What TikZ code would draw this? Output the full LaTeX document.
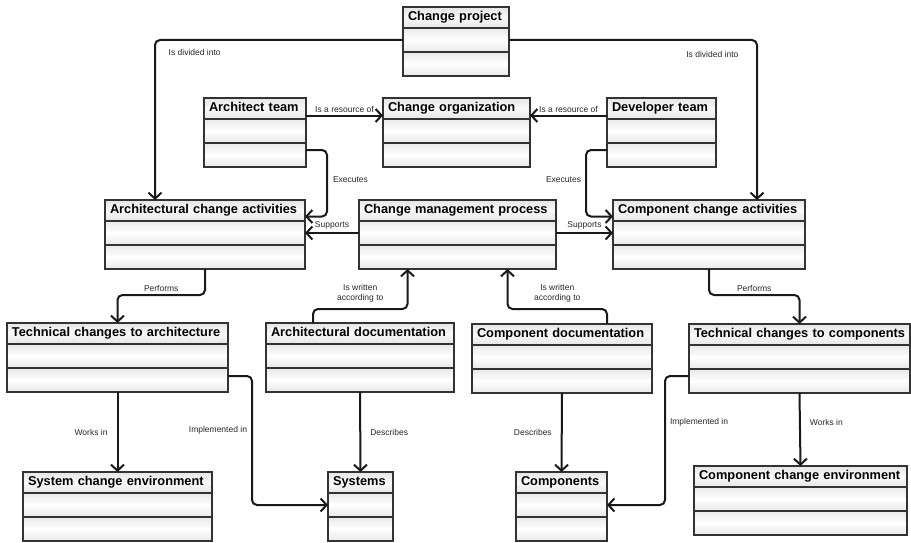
\documentclass[tikz,border=0pt]{standalone}
\usepackage{fontspec}
\setmainfont{Liberation Sans}
\usetikzlibrary{arrows.meta}

\begin{document}
\begin{tikzpicture}[x=1pt, y=-1pt, >={Straight Barb[length=6pt,width=13pt]}]
    % Define styles for the class boxes, the links and their labels
    \tikzstyle{head} = [draw=black!80, line width=1.2pt, outer sep=0pt, inner xsep=5pt, inner ysep=2pt, minimum height=21pt, text height=9.5pt, text depth=4pt, align=left, font=\fontsize{12.8}{14}\bfseries, top color=gray!20, bottom color=gray!20, middle color=gray!5]
    \tikzstyle{cell} = [draw=black!80, line width=1.2pt, outer sep=0pt, minimum height=24pt, top color=gray!18, bottom color=gray!18, middle color=white]
    \tikzstyle{link} = [->, line width=2pt, rounded corners=5pt, black!90]
    \tikzstyle{lbl} = [font=\fontsize{8.5}{10}\selectfont, inner sep=1pt, black!85]

    \useasboundingbox (0,0) rectangle (911,543);

    % Classes: name / x / y / width / title
    \foreach \id/\x/\y/\w/\title in {
        proj/403/7/106/Change project,
        archteam/204/98/102/Architect team,
        changeorg/383/98/147/Change organization,
        devteam/607/98/109/Developer team,
        archact/105/200/200/Architectural change activities,
        cmp/359/200/197/Change management process,
        compact/613/200/192/Component change activities,
        techarch/7/323/221/Technical changes to architecture,
        archdoc/266/323/188/Architectural documentation,
        compdoc/472/324/180/Component documentation,
        techcomp/689/324/221/Technical changes to components,
        sysenv/23/472/189/System change environment,
        systems/328/472/65/Systems,
        components/516/472/91/Components,
        compenv/694/466/213/Component change environment}{
        \pgfmathsetmacro{\tw}{\w-10}
        \node[head, anchor=north west, minimum width=\w pt, text width=\tw pt] (\id) at (\x,\y) {\mbox{\title}};
        \node[cell, anchor=north, minimum width=\w pt] (\id-a) at (\id.south) {};
        \node[cell, anchor=north, minimum width=\w pt] (\id-b) at (\id-a.south) {};
    }

    % Links
    \draw[link] (proj-a.west) -| ([xshift=-50pt]archact.north) node[lbl, pos=0.42, below=7pt] {Is divided into};
    \draw[link] (proj-a.east) -| ([xshift=48pt]compact.north) node[lbl, pos=0.41, below=9pt] {Is divided into};
    \draw[link] ([yshift=-7pt]archteam.east) -- ([yshift=-7pt]changeorg.west) node[lbl, midway, above=1pt] {Is a resource of};
    \draw[link] ([yshift=-7pt]devteam.west) -- ([yshift=-7pt]changeorg.east) node[lbl, midway, above=1pt] {Is a resource of};
    \draw[link] ([yshift=-7pt]archteam-b.north east) -- ++(21,0) |- ([yshift=-6pt]archact.east) node[lbl, pos=0.22, right=4pt] {Executes};
    \draw[link] ([yshift=-7pt]devteam-b.north west) -- ++(-21,0) |- ([yshift=-6pt]compact.west) node[lbl, pos=0.22, left=3pt] {Executes};
    \draw[link] (cmp-a.west) -- (archact-a.east) node[lbl, midway, above=2pt] {Supports};
    \draw[link] (cmp-a.east) -- (compact-a.west) node[lbl, midway, above=2pt] {Supports};
    \draw[link] (archact-b.south) -- ++(0,26) -| (techarch.north) node[lbl, pos=0.25, above=1pt] {Performs};
    \draw[link] (compact-b.south) -- ++(0,26) -| (techcomp.north) node[lbl, pos=0.25, above=1pt] {Performs};
    \draw[link] ([xshift=-47pt]archdoc.north) -- ++(0,-14) -| ([xshift=-50pt]cmp-b.south) node[lbl, pos=0.25, above=5pt, align=center] {Is written\\according to};
    \draw[link] ([xshift=45pt]compdoc.north) -- ++(0,-15) -| ([xshift=50pt]cmp-b.south) node[lbl, pos=0.25, above=5pt, align=center] {Is written\\according to};
    \draw[link] (techarch-b.south) -- (sysenv.north) node[lbl, midway, left=8pt] {Works in};
    \draw[link] ([yshift=-8pt]techarch-b.north east) -- ++(24,0) |- (systems-a.west) node[lbl, pos=0.21, left=3pt] {Implemented in};
    \draw[link] (archdoc-b.south) -- (systems.north) node[lbl, midway, right=8pt] {Describes};
    \draw[link] (compdoc-b.south) -- (components.north) node[lbl, midway, left=8pt] {Describes};
    \draw[link] ([yshift=-7pt]techcomp-b.north west) -- ++(-24,0) |- (components-a.east) node[lbl, pos=0.18, right=3pt] {Implemented in};
    \draw[link] (techcomp-b.south) -- (compenv.north) node[lbl, pos=0.4, right=8pt] {Works in};
\end{tikzpicture}
\end{document}
